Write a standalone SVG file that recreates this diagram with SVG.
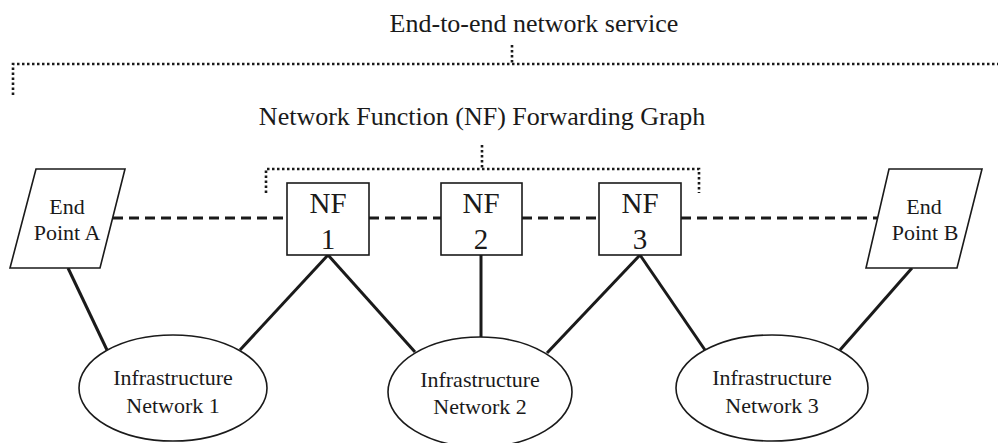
<svg xmlns="http://www.w3.org/2000/svg" width="998" height="443" viewBox="0 0 998 443">
<style>
text{font-family:"Liberation Serif","Times New Roman",serif;fill:#1a1a1a;text-anchor:middle}
.title{font-size:26px}
.ep{font-size:22px}
.nf{font-size:29px}
.inf{font-size:22px}
.shape{fill:#fff;stroke:#1a1a1a;stroke-width:1.6}
.solid{stroke:#1a1a1a;stroke-width:3;fill:none}
.dash{stroke:#1a1a1a;stroke-width:3;fill:none;stroke-dasharray:10 6}
.dot{stroke:#1a1a1a;stroke-width:2.6;fill:none;stroke-dasharray:2.5 2.5}
</style>
<rect width="998" height="443" fill="#fff"/>
<g id="labels">
<text class="title" x="534" y="32">End-to-end network service</text>
<text class="title" x="482" y="125">Network Function (NF) Forwarding Graph</text>
</g>
<g id="brackets">
<path class="dot" d="M13 95 V64 H998"/>
<path class="dot" d="M512 45 V64"/>
<path class="dot" d="M266 193 V169 H699 V193"/>
<path class="dot" d="M482 145 V169"/>
</g>
<g id="connectors">
<path class="dash" d="M113 218 H287"/>
<path class="dash" d="M369 218 H441"/>
<path class="dash" d="M522 218 H599"/>
<path class="dash" d="M681 218 H878"/>
<path class="solid" d="M68 268 L107 350"/>
<path class="solid" d="M328 255 L240 350"/>
<path class="solid" d="M328 255 L415 352"/>
<path class="solid" d="M481 255 V338"/>
<path class="solid" d="M640 255 L547 353"/>
<path class="solid" d="M640 255 L705 350"/>
<path class="solid" d="M912 268 L840 350"/>
</g>
<g id="endpointA">
<polygon class="shape" points="36,169 125,169 100,268 10,268"/>
<text class="ep" x="67" y="214">End</text>
<text class="ep" x="67" y="240">Point A</text>
</g>
<g id="endpointB">
<polygon class="shape" points="889,169 982,169 957,268 866,268"/>
<text class="ep" x="924" y="214">End</text>
<text class="ep" x="925" y="240">Point B</text>
</g>
<g id="nf1">
<rect class="shape" x="287" y="183" width="82" height="72"/>
<text class="nf" x="328" y="213">NF</text>
<text class="nf" x="328" y="249">1</text>
</g>
<g id="nf2">
<rect class="shape" x="441" y="183" width="81" height="72"/>
<text class="nf" x="481" y="213">NF</text>
<text class="nf" x="481" y="249">2</text>
</g>
<g id="nf3">
<rect class="shape" x="599" y="183" width="82" height="72"/>
<text class="nf" x="640" y="213">NF</text>
<text class="nf" x="640" y="249">3</text>
</g>
<g id="infra1">
<ellipse class="shape" cx="173" cy="388" rx="94" ry="53"/>
<text class="inf" x="173" y="385">Infrastructure</text>
<text class="inf" x="173" y="413">Network 1</text>
</g>
<g id="infra2">
<ellipse class="shape" cx="480" cy="392" rx="92" ry="55"/>
<text class="inf" x="480" y="387">Infrastructure</text>
<text class="inf" x="480" y="414">Network 2</text>
</g>
<g id="infra3">
<ellipse class="shape" cx="772" cy="388" rx="96" ry="53"/>
<text class="inf" x="772" y="385">Infrastructure</text>
<text class="inf" x="772" y="413">Network 3</text>
</g>
</svg>
